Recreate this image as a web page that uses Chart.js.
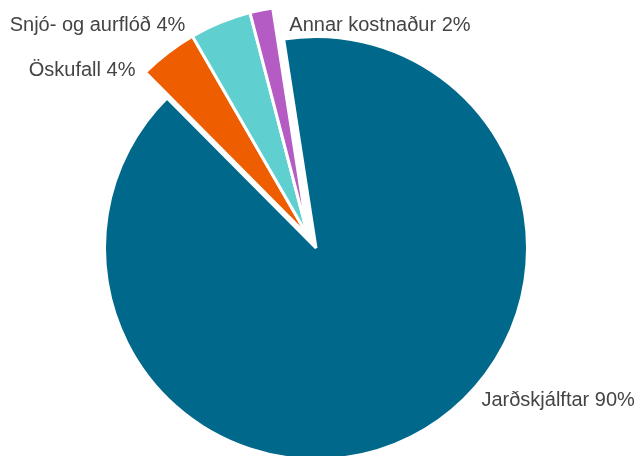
<!DOCTYPE html>
<html>
<head>
<meta charset="utf-8">
<script src="https://cdn.jsdelivr.net/npm/chart.js@4"></script>
<style>
  html, body { margin: 0; padding: 0; background: #fff; }
  #wrap { position: relative; width: 636px; height: 456px; }
  #wrap canvas { position: absolute; left: 0; top: 0; }
</style>
</head>
<body>
<div id="wrap">
  <canvas id="mainPie" width="636" height="456"></canvas>
  <canvas id="explodedPie" width="636" height="456"></canvas>
</div>
<script>
// Cost shares (%)
const categories = ["Jarðskjálftar", "Öskufall", "Snjó- og aurflóð", "Annar kostnaður"];
const shares = [90, 4.1, 4.3, 1.6];
const sliceColors = ["#00688a", "#ee5d00", "#5fcfcf", "#b55bc4"];

// where each label sits: angle (deg, clockwise from top) and distance as a factor of the radius
const labelSpots = [
  { angle: 133.7, dist: 1.082, align: "left" },
  { angle: -46.4, dist: 1.179, align: "right" },
  { angle: -31.1, dist: 1.196, align: "right" },
  { angle: -7.0, dist: 1.035, align: "left" }
];

const total = shares.reduce((a, b) => a + b, 0);
const clear = "rgba(0,0,0,0)";

const pieLabels = {
  id: "pieLabels",
  afterDatasetsDraw(chart) {
    const ctx = chart.ctx;
    const arcs = chart.getDatasetMeta(0).data;
    const cx = arcs[0].x, cy = arcs[0].y;
    const r = arcs[0].outerRadius;
    ctx.save();
    ctx.font = "20px 'Liberation Sans', Arial, sans-serif";
    ctx.fillStyle = "#444444";
    ctx.textBaseline = "alphabetic";
    categories.forEach((name, i) => {
      const spot = labelSpots[i];
      const a = spot.angle * Math.PI / 180;
      const x = cx + Math.sin(a) * r * spot.dist;
      const y = cy - Math.cos(a) * r * spot.dist;
      ctx.textAlign = spot.align;
      ctx.fillText(name + " " + Math.round(shares[i] / total * 100) + "%", x, y);
    });
    ctx.restore();
  }
};

const baseOptions = {
  responsive: false,
  animation: false,
  rotation: -8.8,
  plugins: {
    legend: { display: false },
    tooltip: { enabled: false }
  }
};

// Big slice
new Chart(document.getElementById("mainPie"), {
  type: "pie",
  data: {
    labels: categories,
    datasets: [{
      data: shares,
      backgroundColor: sliceColors.map((c, i) => i === 0 ? c : clear),
      borderColor: "#ffffff",
      borderWidth: shares.map((v, i) => i === 0 ? 3 : 0),
      clip: false
    }]
  },
  options: Object.assign({}, baseOptions, {
    radius: 211.5,
    layout: { padding: { left: 0, right: 4, top: 40, bottom: 0 } }
  }),
  plugins: [pieLabels]
});

// The three small slices, pulled out together
new Chart(document.getElementById("explodedPie"), {
  type: "pie",
  data: {
    labels: categories,
    datasets: [{
      data: shares,
      backgroundColor: sliceColors.map((c, i) => i === 0 ? clear : c),
      borderColor: shares.map((v, i) => i === 0 ? clear : "#ffffff"),
      borderWidth: shares.map((v, i) => i === 0 ? 0 : 3),
      clip: false
    }]
  },
  options: Object.assign({}, baseOptions, {
    radius: 230.8,
    layout: { padding: { left: 0, right: 20, top: 16, bottom: 0 } }
  })
});
</script>
</body>
</html>
